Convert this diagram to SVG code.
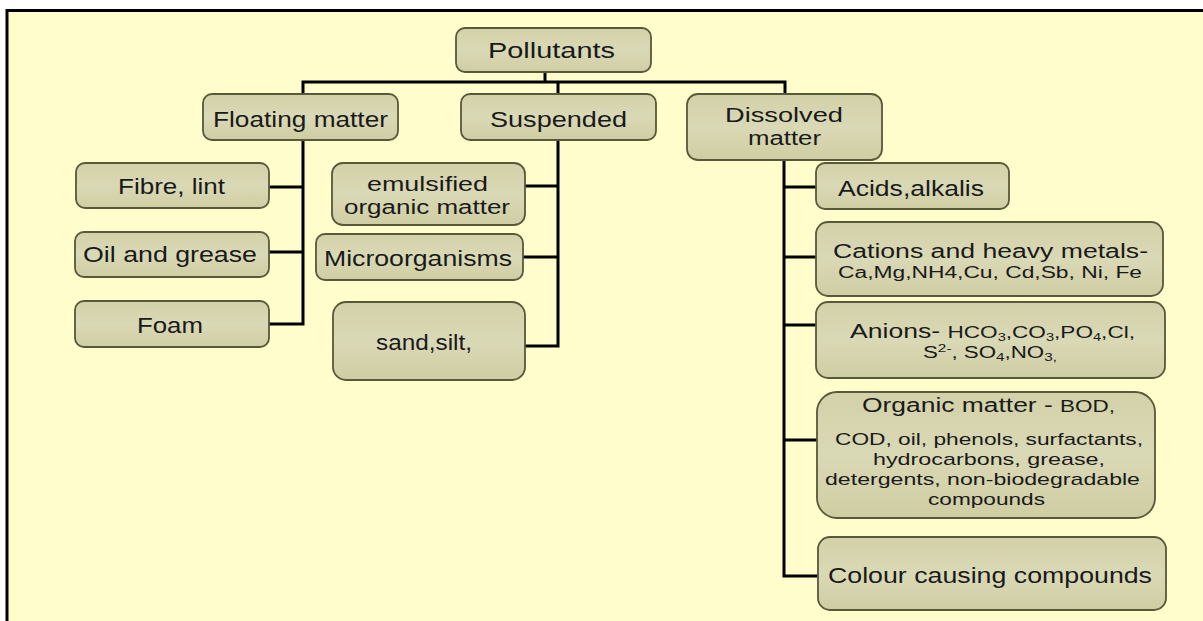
<svg xmlns="http://www.w3.org/2000/svg" width="1203" height="621" viewBox="0 0 1203 621">
<defs>
<linearGradient id="g" x1="0" y1="0" x2="0" y2="1">
<stop offset="0" stop-color="#D2D1A8"/>
<stop offset="0.5" stop-color="#DAD9B6"/>
<stop offset="1" stop-color="#CFCDA2"/>
</linearGradient>
<style>
.box{fill:url(#g);stroke:#58583A;stroke-width:1.8}
.t{font-family:"Liberation Sans",Arial,sans-serif;fill:#1A1A1A;text-anchor:middle}
.l{font-size:22px}
.m{font-size:20px}
.s{font-size:16px}
.c{fill:none;stroke:#000;stroke-width:3}
</style>
</defs>
<rect x="0" y="0" width="1203" height="621" fill="#FFFFFF"/>
<rect x="7" y="10" width="1196" height="611" fill="#FFFDCB"/>
<path d="M7 621 V10.5 H1203" fill="none" stroke="#000" stroke-width="3"/>

<g id="connectors">
<path class="c" d="M545 72 V82 M303 94 V82 H785 V94 M558 82 V94"/>
<path class="c" d="M303 140 V324 H269 M269 187 H303 M269 252 H303"/>
<path class="c" d="M558 140 V346 H525 M525 186 H558 M523 257 H558"/>
<path class="c" d="M784 160 V576 H818 M784 187 H816 M784 257 H816 M784 325 H816 M784 440 H817"/>
</g>

<g id="pollutants"><rect class="box" x="456" y="28" width="195" height="44" rx="9"/>
<text class="t l" x="551.5" y="58" textLength="127" lengthAdjust="spacingAndGlyphs">Pollutants</text></g>

<g id="floating"><rect class="box" x="203" y="94" width="195" height="46" rx="9"/>
<text class="t l" x="300.5" y="127" textLength="175" lengthAdjust="spacingAndGlyphs">Floating matter</text></g>

<g id="suspended"><rect class="box" x="461" y="94" width="195" height="46" rx="9"/>
<text class="t l" x="558.5" y="127" textLength="137" lengthAdjust="spacingAndGlyphs">Suspended</text></g>

<g id="dissolved"><rect class="box" x="687" y="94" width="195" height="66" rx="11"/>
<text class="t m" x="784" y="122" textLength="118" lengthAdjust="spacingAndGlyphs">Dissolved</text>
<text class="t m" x="784.5" y="145" textLength="73" lengthAdjust="spacingAndGlyphs">matter</text></g>

<g id="fibre"><rect class="box" x="76" y="163" width="193" height="45" rx="9"/>
<text class="t l" x="171.5" y="194" textLength="107" lengthAdjust="spacingAndGlyphs">Fibre, lint</text></g>

<g id="oil"><rect class="box" x="75" y="232" width="194" height="45" rx="9"/>
<text class="t l" x="170" y="262" textLength="174" lengthAdjust="spacingAndGlyphs">Oil and grease</text></g>

<g id="foam"><rect class="box" x="75" y="301" width="194" height="46" rx="9"/>
<text class="t l" x="170" y="333" textLength="66" lengthAdjust="spacingAndGlyphs">Foam</text></g>

<g id="emulsified"><rect class="box" x="332" y="163" width="193" height="62" rx="11"/>
<text class="t m" x="427.5" y="191" textLength="121" lengthAdjust="spacingAndGlyphs">emulsified</text>
<text class="t m" x="427" y="214" textLength="166" lengthAdjust="spacingAndGlyphs">organic matter</text></g>

<g id="micro"><rect class="box" x="316" y="234" width="207" height="46" rx="9"/>
<text class="t l" x="418" y="266" textLength="188" lengthAdjust="spacingAndGlyphs">Microorganisms</text></g>

<g id="sand"><rect class="box" x="333" y="302" width="192" height="78" rx="13"/>
<text class="t l" x="424" y="350" textLength="96" lengthAdjust="spacingAndGlyphs">sand,silt,</text></g>

<g id="acids"><rect class="box" x="816" y="163" width="193" height="46" rx="9"/>
<text class="t l" x="911" y="196" textLength="146" lengthAdjust="spacingAndGlyphs">Acids,alkalis</text></g>

<g id="cations"><rect class="box" x="816" y="222" width="347" height="74" rx="12"/>
<text class="t m" x="990.5" y="258" textLength="315" lengthAdjust="spacingAndGlyphs">Cations and heavy metals-</text>
<text class="t s" x="990" y="278" textLength="304" lengthAdjust="spacingAndGlyphs">Ca,Mg,NH4,Cu, Cd,Sb, Ni, Fe</text></g>

<g id="anions"><rect class="box" x="816" y="302" width="349" height="76" rx="12"/>
<text class="t" x="992.5" y="338" textLength="285" lengthAdjust="spacingAndGlyphs"><tspan font-size="20">Anions- </tspan><tspan font-size="17">HCO<tspan font-size="11" dy="3">3</tspan><tspan dy="-3">,CO</tspan><tspan font-size="11" dy="3">3</tspan><tspan dy="-3">,PO</tspan><tspan font-size="11" dy="3">4</tspan><tspan dy="-3">,Cl,</tspan></tspan></text>
<text class="t" x="990" y="358" font-size="16" textLength="134" lengthAdjust="spacingAndGlyphs">S<tspan font-size="11" dy="-6">2-</tspan><tspan dy="6">, SO</tspan><tspan font-size="11" dy="3">4</tspan><tspan dy="-3">,NO</tspan><tspan font-size="11" dy="3">3,</tspan></text></g>

<g id="organic"><rect class="box" x="817" y="392" width="338" height="126" rx="20"/>
<text class="t" x="988.5" y="412" textLength="253" lengthAdjust="spacingAndGlyphs"><tspan font-size="20">Organic matter - </tspan><tspan font-size="17">BOD,</tspan></text>
<text class="t" x="989" y="445" font-size="17" textLength="308" lengthAdjust="spacingAndGlyphs">COD, oil, phenols, surfactants,</text>
<text class="t" x="989" y="465" font-size="17" textLength="232" lengthAdjust="spacingAndGlyphs">hydrocarbons, grease,</text>
<text class="t" x="982.5" y="485" font-size="17" textLength="315" lengthAdjust="spacingAndGlyphs">detergents, non-biodegradable</text>
<text class="t" x="986.5" y="505" font-size="17" textLength="117" lengthAdjust="spacingAndGlyphs">compounds</text></g>

<g id="colour"><rect class="box" x="818" y="537" width="348" height="73" rx="12"/>
<text class="t l" x="990" y="583" textLength="324" lengthAdjust="spacingAndGlyphs">Colour causing compounds</text></g>
</svg>
